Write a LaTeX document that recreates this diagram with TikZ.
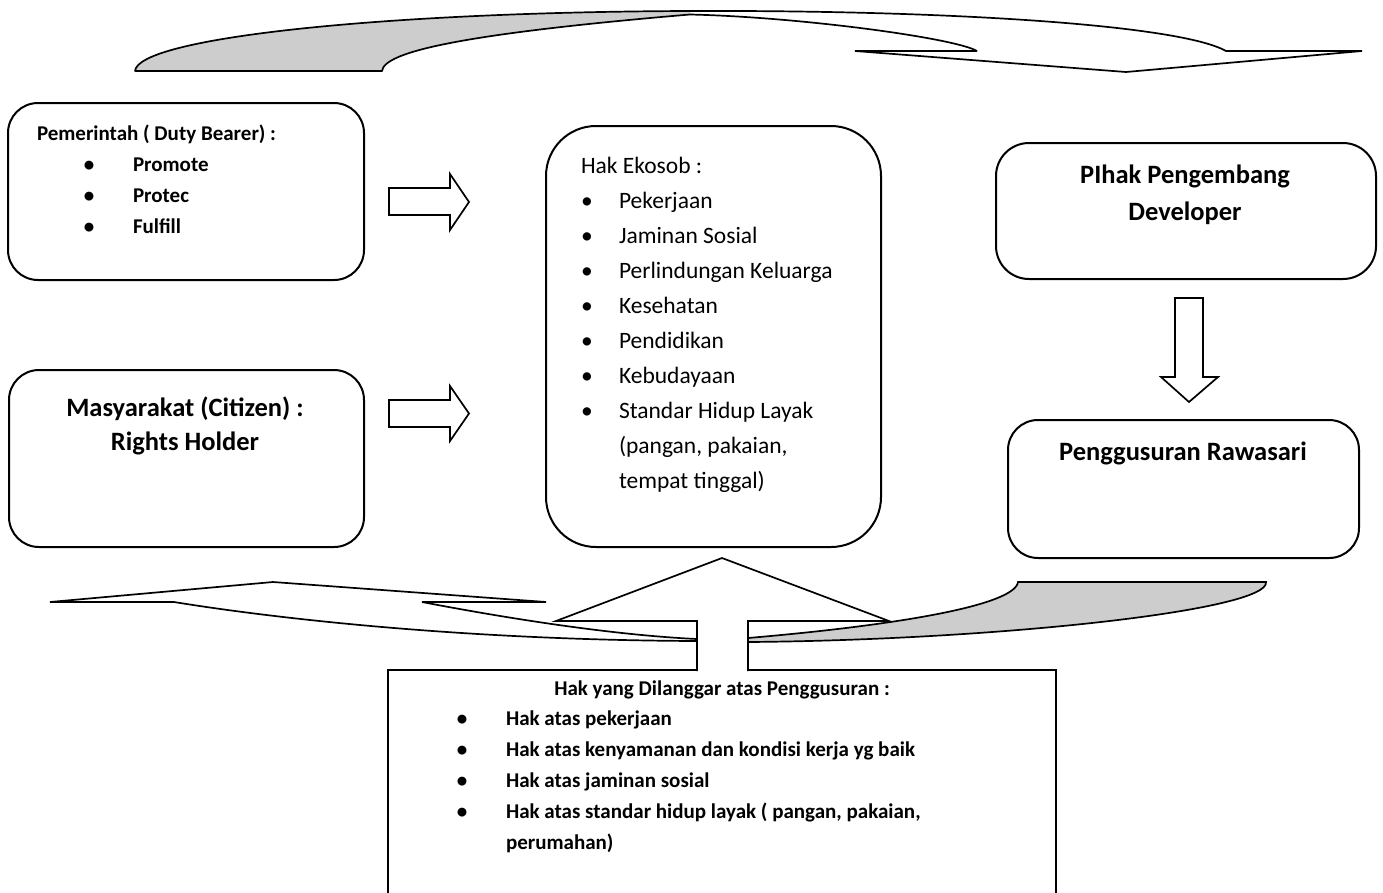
\documentclass[tikz,border=0pt]{standalone}
\usepackage{fontspec}
\setmainfont{Carlito}
\definecolor{graybk}{RGB}{205,205,205}
\begin{document}
\begin{tikzpicture}[x=1pt,y=-1pt]
\tikzset{
  box/.style={draw, line width=2pt, rounded corners=#1, fill=white, anchor=north west, inner sep=0pt},
  outl/.style={draw, line width=1.7pt, line join=miter},
  txt/.style={anchor=base west, inner sep=0pt, outer sep=0pt},
  ctxt/.style={anchor=base, inner sep=0pt, outer sep=0pt},
  sb/.style={font=\fontsize{21}{25}\selectfont\bfseries},
  mr/.style={font=\fontsize{23.5}{28}\selectfont},
  bb/.style={font=\fontsize{26.5}{30}\selectfont\bfseries},
}
\useasboundingbox (0,0) rectangle (1383,892);
\fill[white] (0,0) rectangle (1383,892);

% ---- top curved arrow ----
\fill[graybk] (135,71) -- (382,71) .. controls (384,52) and (460,34) .. (690,14.5)
  -- (690,11) .. controls (380,12) and (138,38) .. (135,71) -- cycle;
\draw[outl, line join=bevel] (135,71) -- (382,71) .. controls (384,52) and (460,34) .. (690,14.5)
  .. controls (800,17) and (955,38) .. (977,51) -- (855,51) -- (1126,72) -- (1362,51)
  -- (1226,51) .. controls (1180,25) and (950,10) .. (690,11)
  .. controls (380,12) and (138,38) .. (135,71) -- cycle;

% ---- boxes ----
\node[box=30pt, minimum width=356pt, minimum height=177pt] (pem) at (7,102) {};
\node[box=30pt, minimum width=355pt, minimum height=177pt] (mas) at (8,369) {};
\node[box=50pt, minimum width=335pt, minimum height=421pt] (eko) at (545,125) {};
\node[box=33pt, minimum width=380pt, minimum height=136pt] (dev) at (995,142) {};
\node[box=30pt, minimum width=351pt, minimum height=138pt] (gus) at (1007,419) {};

% ---- texts: Pemerintah ----
\node[txt, sb] (pemT) at (37,140) {Pemerintah ( Duty Bearer) :};
\node[ctxt, sb] (pemB1) at (89,171) {•};
\node[txt, sb] (pem1) at (133,171) {Promote};
\node[ctxt, sb] (pemB2) at (89,202) {•};
\node[txt, sb] (pem2) at (133,202) {Protec};
\node[ctxt, sb] (pemB3) at (89,233) {•};
\node[txt, sb] (pem3) at (133,233) {Fulfill};

% ---- Masyarakat ----
\node[ctxt, bb] (masT1) at (185,416.5) {Masyarakat (Citizen) :};
\node[ctxt, bb] (masT2) at (185,450.5) {Rights Holder};

% ---- Hak Ekosob ----
\node[txt, mr] (ekoT) at (581,173) {Hak Ekosob :};
\foreach \y/\t [count=\i] in {208/Pekerjaan, 243/Jaminan Sosial, 278/Perlindungan Keluarga,
   313/Kesehatan, 348/Pendidikan, 383/Kebudayaan, 418/Standar Hidup Layak}{
  \node[ctxt, mr] (ekoB\i) at (587,\y) {•};
  \node[txt, mr] (eko\i) at (619,\y) {\t};
}
\node[txt, mr] (eko8) at (619,453) {(pangan, pakaian,};
\node[txt, mr] (eko9) at (619,488) {tempat tinggal)};

% ---- Developer ----
\node[ctxt, bb] (devT1) at (1185,183) {PIhak Pengembang};
\node[ctxt, bb] (devT2) at (1185,220) {Developer};
\node[ctxt, bb] (gusT) at (1183,460) {Penggusuran Rawasari};

% ---- block arrows ----
\draw[outl, fill=white] (389,188) -- (450,188) -- (450,174) -- (469,202) -- (450,230) -- (450,215) -- (389,215) -- cycle;
\draw[outl, fill=white] (389,400) -- (450,400) -- (450,386) -- (469,413.5) -- (450,441) -- (450,427) -- (389,427) -- cycle;
\draw[outl, fill=white] (1175,298) -- (1203,298) -- (1203,377) -- (1218,377) -- (1189,402) -- (1161,377) -- (1175,377) -- cycle;

% ---- bottom curved arrow pieces ----
\draw[outl, fill=white] (697,641) .. controls (450,640) and (260,616) .. (174,602) -- (50,602) -- (273,582)
  -- (546,602) -- (422,602) .. controls (500,617) and (610,635) .. (697,639);
\draw[outl, fill=graybk] (748,638) .. controls (900,625) and (1015,605) .. (1018,582) -- (1266,582)
  .. controls (1270,610) and (1000,640) .. (748,642);

% ---- bottom box ----
\draw[outl, line width=1.8pt] (388,900) -- (388,670) -- (1056,670) -- (1056,900);
\node[ctxt, sb] (vioT) at (722,695) {Hak yang Dilanggar atas Penggusuran :};
\foreach \y/\t [count=\i] in {725/Hak atas pekerjaan, 756/Hak atas kenyamanan dan kondisi kerja yg baik,
   787/Hak atas jaminan sosial, 818/{Hak atas standar hidup layak ( pangan, pakaian,}}{
  \node[ctxt, sb] (vioB\i) at (462,\y) {•};
  \node[txt, sb] (vio\i) at (506,\y) {\t};
}
\node[txt, sb] (vio5) at (506,849) {perumahan)};

% ---- up arrow ----
\fill[white] (697,673) -- (697,621) -- (556,621) -- (722,558) -- (889,621) -- (748,621) -- (748,673) -- cycle;
\draw[outl] (697,671) -- (697,621) -- (556,621) -- (722,558) -- (889,621) -- (748,621) -- (748,671);
\end{tikzpicture}
\end{document}
